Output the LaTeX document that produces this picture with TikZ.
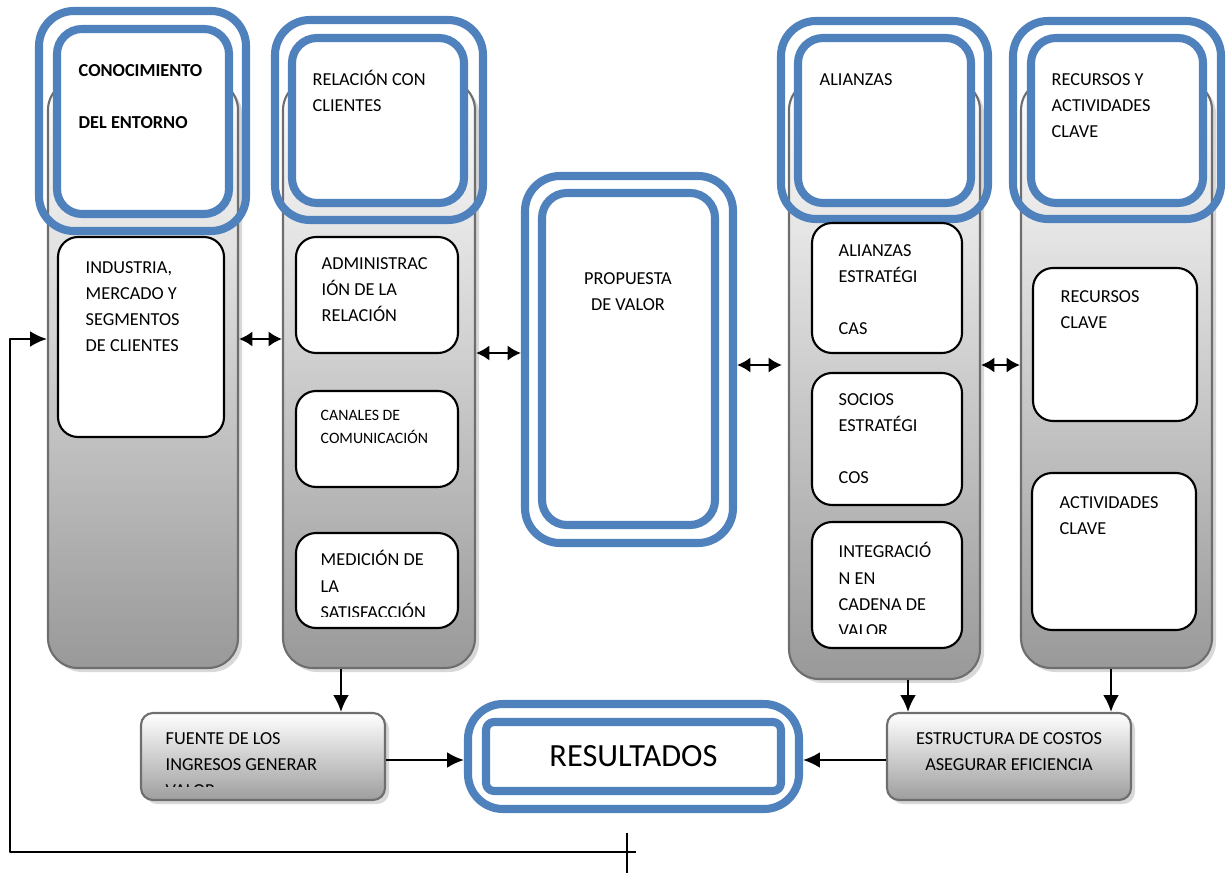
\documentclass[tikz,border=0pt]{standalone}
\usepackage{fontspec}
\setmainfont{Carlito}
\usetikzlibrary{arrows,arrows.meta,positioning,calc,fit,shadows}
\definecolor{azul}{HTML}{4F81BD}
\definecolor{borde}{HTML}{6E6E6E}
\tikzset{
columna/.style={draw=borde, line width=0.6pt, rounded corners=0.3cm, top color=white, bottom color=black!40, inner sep=0pt,
  drop shadow={shadow xshift=0.04cm, shadow yshift=-0.04cm, fill=black!30, opacity=0.5}},
cajagris/.style={draw=borde, line width=0.6pt, rounded corners=0.12cm, top color=white, middle color=black!8, bottom color=black!38, inner sep=0pt,
  drop shadow={shadow xshift=0.04cm, shadow yshift=-0.04cm, fill=black!30, opacity=0.5}},
azulfuera/.style={draw=azul, line width=2.3pt, rounded corners=0.35cm, inner sep=0pt},
azuldentro/.style={draw=azul, fill=white, line width=2.3pt, rounded corners=0.25cm, inner sep=0pt},
caja/.style={draw, fill=white, line width=0.6pt, rounded corners=0.2cm, inner sep=0pt},
txt/.style={anchor=north west, inner sep=0pt, align=left, font=\fontsize{5.2}{7.4}\selectfont},
flecha/.style={line width=0.65pt, -{Latex[length=4.8pt,width=4.5pt]}},
doble/.style={line width=0.85pt, {Latex[length=3.8pt,width=4.4pt]}-{Latex[length=3.8pt,width=4.4pt]}}
}
\begin{document}
\begin{tikzpicture}[x=0.01cm, y=-0.01cm, line join=round]
\useasboundingbox (0,0) rectangle (1228,873);
\node[columna, fit={(48,80) (238,668)}] (colE) {};
\node[columna, fit={(283,80) (475,668)}] (colC) {};
\node[columna, fit={(789,80) (980,679)}] (colA) {};
\node[columna, fit={(1021,80) (1212,668)}] (colR) {};
\node[azulfuera, fit={(39,11) (246,231)}] (oE) {};
\node[azuldentro, fit={(57,29) (229,214)}] (iE) {};
\node[azulfuera, fit={(275,20) (483,220)}] (oC) {};
\node[azuldentro, fit={(292,38) (464,203)}] (iC) {};
\node[azulfuera, fit={(525,176) (733,543)}] (oP) {};
\node[azuldentro, fit={(542,193) (715,525)}] (iP) {};
\node[azulfuera, fit={(781,21) (988,219)}] (oA) {};
\node[azuldentro, fit={(798,38) (971,203)}] (iA) {};
\node[azulfuera, fit={(1013,21) (1221,219)}] (oR) {};
\node[azuldentro, fit={(1031,38) (1203,203)}] (iR) {};
\node[azulfuera, fit={(468,704) (799,809)}] (oRes) {};
\node[azuldentro, rounded corners=0.08cm, fit={(486,722) (781,791)}] (iRes) {};
\node[caja, fit={(58,237) (224,437)}] (industria) {};
\node[caja, fit={(296,237) (458,353)}] (admin) {};
\node[caja, fit={(296,391) (458,487)}] (canales) {};
\node[caja, fit={(296,533) (458,628)}] (medicion) {};
\node[caja, fit={(812,223) (962,353)}] (aliEst) {};
\node[caja, fit={(812,373) (962,505)}] (socios) {};
\node[caja, fit={(812,522) (962,648)}] (integra) {};
\node[caja, fit={(1033,268) (1197,421)}] (recursos) {};
\node[caja, fit={(1032,473) (1196,630)}] (activ) {};
\node[cajagris, fit={(141,713) (385,800)}] (fuente) {};
\node[cajagris, fit={(887,713) (1131,800)}] (estr) {};
\node[txt, font=\fontsize{5.2}{7.4}\selectfont\bfseries] (tE) at (78,64) {CONOCIMIENTO\\[7.4pt]DEL ENTORNO};
\node[txt] (tC) at (312,70) {RELACIÓN CON\\CLIENTES};
\node[txt] (tA) at (819,73) {ALIANZAS};
\node[txt] (tR) at (1051,73) {RECURSOS Y\\ACTIVIDADES\\CLAVE};
\node[txt, anchor=north, align=center] (tP) at (628,272) {PROPUESTA\\DE VALOR};
\node[txt] (tInd) at (85,261) {INDUSTRIA,\\MERCADO Y\\SEGMENTOS\\DE CLIENTES};
\node[txt] (tAdm) at (321,257) {ADMINISTRAC\\IÓN DE LA\\RELACIÓN};
\node[txt, font=\fontsize{4.5}{6.3}\selectfont] (tCan) at (320,410) {CANALES DE\\COMUNICACIÓN};
\begin{scope}
\clip (296,533) rectangle (458,616);
\node[txt] (tMed) at (320,550) {MEDICIÓN DE\\LA\\SATISFACCIÓN};
\end{scope}
\node[txt] (tAli) at (838,244) {ALIANZAS\\ESTRATÉGI\\~\\CAS};
\node[txt] (tSoc) at (838,393) {SOCIOS\\ESTRATÉGI\\~\\COS};
\begin{scope}
\clip (812,522) rectangle (962,633);
\node[txt] (tInt) at (838,542) {INTEGRACIÓ\\N EN\\CADENA DE\\VALOR};
\end{scope}
\node[txt] (tRec) at (1060,290) {RECURSOS\\CLAVE};
\node[txt] (tAct) at (1059,496) {ACTIVIDADES\\CLAVE};
\begin{scope}
\clip (141,713) rectangle (385,786);
\node[txt] (tFue) at (165,732) {FUENTE DE LOS\\INGRESOS GENERAR\\VALOR};
\end{scope}
\node[txt, anchor=north, align=center] (tEst) at (1009,732) {ESTRUCTURA DE COSTOS\\ASEGURAR EFICIENCIA};
\node[font=\fontsize{9.2}{11}\selectfont] (tRes) at (iRes.center) {RESULTADOS};
\coordinate (h1) at (0,339);
\coordinate (h2) at (0,353);
\coordinate (h3) at (0,365);
\coordinate (h4) at (0,760);
\coordinate (v1) at (341,0);
\coordinate (v2) at (908,0);
\coordinate (v3) at (1111,0);
\coordinate (fbA) at (636,852);
\coordinate (fbB) at (10,852);
\coordinate (tk1) at (627,833);
\coordinate (tk2) at (627,873);
\draw[doble] (colE.east |- h1) -- (colC.west |- h1);
\draw[doble] (colC.east |- h2) -- (oP.west |- h2);
\draw[doble, shorten >=0.06cm] (oP.east |- h3) -- (colA.west |- h3);
\draw[doble] (colA.east |- h3) -- (colR.west |- h3);
\draw[flecha] (colC.south -| v1) -- (fuente.north -| v1);
\draw[flecha] (colA.south -| v2) -- (estr.north -| v2);
\draw[flecha] (colR.south -| v3) -- (estr.north -| v3);
\draw[flecha] (fuente.east |- h4) -- (oRes.west |- h4);
\draw[flecha] (estr.west |- h4) -- (oRes.east |- h4);
\draw[flecha] (fbA) -- (fbB) |- (colE.west |- h1);
\draw[line width=0.6pt] (tk1) -- (tk2);
\end{tikzpicture}
\end{document}
